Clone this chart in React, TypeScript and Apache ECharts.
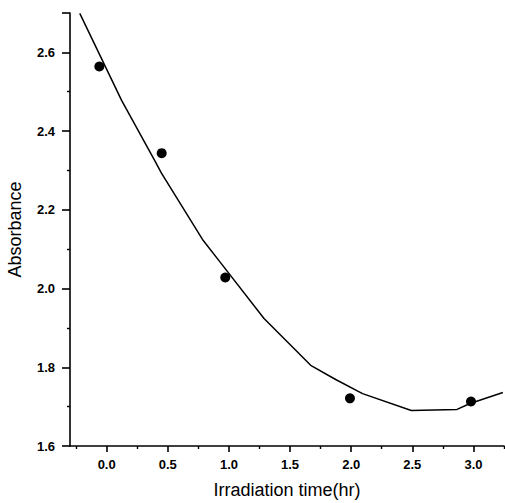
import React, { useEffect, useRef } from "react";
import * as echarts from "echarts";

const timeHr = [-0.06, 0.45, 0.97, 1.99, 2.98];
const absorbance = [2.564, 2.344, 2.028, 1.721, 1.713];

const fitX = [-0.22, 0.122, 0.391, 0.448, 0.79, 0.936, 1.287, 1.669, 1.873, 2.093, 2.492, 2.866, 2.972, 3.241];
const fitY = [2.699, 2.478, 2.326, 2.293, 2.122, 2.064, 1.924, 1.805, 1.769, 1.733, 1.69, 1.693, 1.708, 1.736];

const xMajorTicks = [0, 0.5, 1.0, 1.5, 2.0, 2.5, 3.0];
const xMinorTicks = [-0.25, 0.25, 0.75, 1.25, 1.75, 2.25, 2.75, 3.25];

const FONT = "'Liberation Sans', Arial, sans-serif";

export default function App() {
  const ref = useRef<HTMLDivElement>(null);
  useEffect(() => {
    if (!ref.current) return;
    const chart = echarts.init(ref.current, undefined, { renderer: "svg" });
    const axisLineStyle = { color: "#000", width: 1.6 };
    chart.setOption({
      animation: false,
      backgroundColor: "#fff",
      grid: { left: 70, right: 1, top: 13, bottom: 57, containLabel: false, outerBoundsMode: "none" },
      xAxis: [
        {
          type: "value",
          min: -0.3,
          max: 3.25,
          position: "bottom",
          name: "Irradiation time(hr)",
          nameLocation: "middle",
          nameGap: 35,
          nameTextStyle: { fontFamily: FONT, fontSize: 18, color: "#000" },
          axisLine: { show: true, onZero: false, lineStyle: axisLineStyle },
          axisTick: { show: true, customValues: xMajorTicks, length: 6, lineStyle: { color: "#000", width: 1.6 } },
          axisLabel: {
            customValues: xMajorTicks,
            formatter: (v: number) => v.toFixed(1),
            fontFamily: FONT,
            fontSize: 13,
            fontWeight: "bold",
            color: "#000",
            margin: 12,
          },
          splitLine: { show: false },
        },
        {
          type: "value",
          min: -0.3,
          max: 3.25,
          position: "bottom",
          axisLine: { show: false, onZero: false },
          axisTick: { show: true, customValues: xMinorTicks, length: 3, lineStyle: { color: "#000", width: 1.4 } },
          axisLabel: { show: false },
          splitLine: { show: false },
        },
      ],
      yAxis: {
        type: "value",
        min: 1.6,
        max: 2.7,
        interval: 0.2,
        name: "Absorbance",
        nameLocation: "middle",
        nameGap: 46,
        nameTextStyle: { fontFamily: FONT, fontSize: 18, color: "#000" },
        axisLine: { show: true, onZero: false, lineStyle: axisLineStyle },
        axisTick: { show: true, length: 8, lineStyle: { color: "#000", width: 1.6 } },
        minorTick: { show: true, splitNumber: 2, length: 3, lineStyle: { color: "#000", width: 1.4 } },
        axisLabel: {
          showMaxLabel: false,
          formatter: (v: number) => v.toFixed(1),
          fontFamily: FONT,
          fontSize: 13,
          fontWeight: "bold",
          color: "#000",
          margin: 15,
        },
        splitLine: { show: false },
      },
      series: [
        {
          type: "line",
          data: fitX.map((x, i) => [x, fitY[i]]),
          showSymbol: false,
          symbol: "none",
          lineStyle: { color: "#000", width: 1.5 },
          clip: true,
          z: 2,
        },
        {
          type: "scatter",
          data: timeHr.map((x, i) => [x, absorbance[i]]),
          symbol: "circle",
          symbolSize: 10,
          itemStyle: { color: "#000", opacity: 1 },
          z: 3,
        },
      ],
    });
    return () => chart.dispose();
  }, []);
  return <div ref={ref} style={{ width: 505, height: 503, position: "absolute", left: 0, top: 0 }} />;
}
